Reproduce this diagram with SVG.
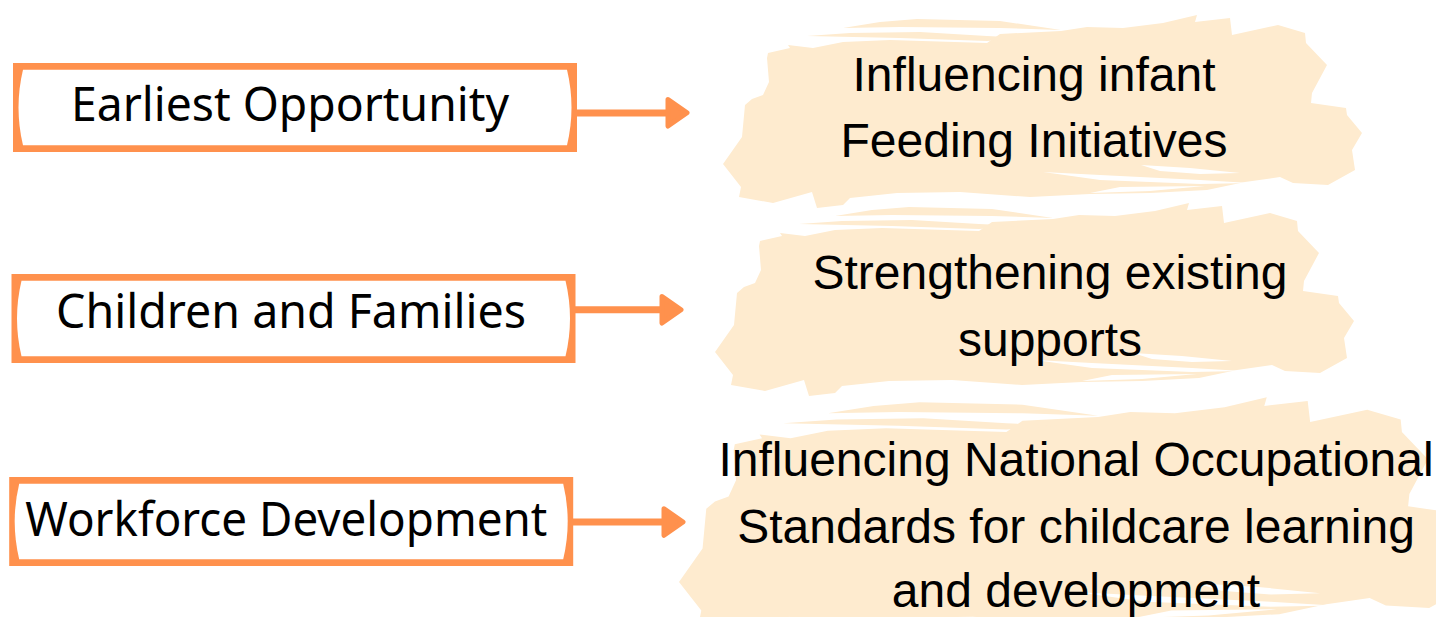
<svg xmlns="http://www.w3.org/2000/svg" xmlns:xlink="http://www.w3.org/1999/xlink" width="1436" height="617" viewBox="0 0 1436 617">
<style>
.frame{fill:#FF914D}
.inner{fill:#FFFFFF}
.lbl{font-family:"Noto Sans","Open Sans",sans-serif;font-size:47px;fill:#000000}
.txt{font-family:"Liberation Sans",Arial,sans-serif;font-size:48px;fill:#000000;text-anchor:middle}
.paint{fill:#FEEBCF}
.gap{fill:#FFFFFF}
.shaft{stroke:#FF914D;stroke-width:7;fill:none}
.head{fill:#FF914D;stroke:#FF914D;stroke-width:5;stroke-linejoin:round}
</style>
<defs>
<g id="box">
<rect class="frame" x="0" y="0" width="564" height="89"/>
<path class="inner" d="M10,6.7 L554,6.7 Q563,44.5 554,82.3 L10,82.3 Q1,44.5 10,6.7 Z"/>
</g>
<g id="blob">
<path class="paint" d="M768,53 L790,48 L788,45 L813,48 L843,42 L890,40 L987,43 L1000,34 L1061,31 L1087,27 L1123,28 L1163,23 L1197,15 L1195,22 L1230,18 L1232,35 L1278,25 L1305,33 L1306,43 L1327,65 L1312,93 L1311,103 L1346,108 L1347,115 L1362,133 L1352,150 L1355,170 L1328,185 L1293,183 L1280,177 L1245,182 L1207,190 L1150,193 L1090,194 L1030,197 L960,192 L897,193 L850,198 L843,205 L817,208 L812,192 L773,203 L739,197 L741,187 L723,164 L742,137 L745,105 L752,99 L763,95 L769,82 L767,58 Z"/>
<path class="paint" d="M843,28 L880,22 L917,19 L1000,21 L1061,30 L1000,28 L900,27 Z"/>
<path class="paint" d="M807,36 L850,33 L920,32 L987,36 L1030,38 L987,41 L900,38 Z"/>
<path class="gap" d="M1043,172 L1100,175 L1200,180 L1250,183 L1200,184 L1100,180 Z"/>
<path class="gap" d="M1141,165 L1190,168 L1240,173 L1200,174 L1160,171 Z"/>
<path class="gap" d="M1090,193 L1120,187 L1205,186 L1150,191 Z"/>
</g>
</defs>
<g id="blobs">
<use xlink:href="#blob"/>
<use xlink:href="#blob" transform="translate(-8,188)"/>
<use xlink:href="#blob" transform="translate(679,582) scale(1.24) translate(-723,-164)"/>
</g>
<g id="connectors">
<line class="shaft" x1="576" y1="113" x2="668" y2="113"/>
<path class="head" d="M668,99.5 L687,112.7 L668,126 Z"/>
<line class="shaft" x1="574" y1="309.7" x2="662" y2="309.7"/>
<path class="head" d="M662,296.5 L681,309.7 L662,323 Z"/>
<line class="shaft" x1="572" y1="522" x2="664" y2="522"/>
<path class="head" d="M664,508.8 L683,522 L664,535.3 Z"/>
</g>
<g id="node-earliest">
<use xlink:href="#box" transform="translate(13,63)"/>
<text class="lbl" x="71" y="121" textLength="438" lengthAdjust="spacingAndGlyphs">Earliest Opportunity</text>
</g>
<g id="node-children">
<use xlink:href="#box" transform="translate(11.5,274)"/>
<text class="lbl" x="56" y="327.5" textLength="470" lengthAdjust="spacingAndGlyphs">Children and Families</text>
</g>
<g id="node-workforce">
<use xlink:href="#box" transform="translate(9.2,477)"/>
<text class="lbl" x="25.3" y="536" textLength="522" lengthAdjust="spacingAndGlyphs">Workforce Development</text>
</g>
<g id="node-infant">
<text class="txt" x="1034" y="91">Influencing infant</text>
<text class="txt" x="1034" y="157">Feeding Initiatives</text>
</g>
<g id="node-supports">
<text class="txt" x="1050" y="289">Strengthening existing</text>
<text class="txt" x="1050" y="356">supports</text>
</g>
<g id="node-standards">
<text class="txt" x="1076" y="476">Influencing National Occupational</text>
<text class="txt" x="1076" y="543">Standards for childcare learning</text>
<text class="txt" x="1076" y="607">and development</text>
</g>
</svg>
